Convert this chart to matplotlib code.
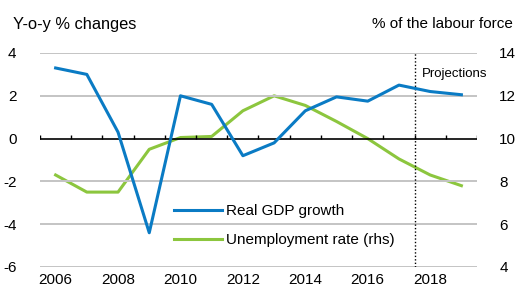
import matplotlib
matplotlib.use("Agg")
import matplotlib.pyplot as plt
import numpy as np

plt.rcParams['font.family'] = ['Liberation Sans', 'DejaVu Sans']

years = [2006, 2007, 2008, 2009, 2010, 2011, 2012, 2013, 2014, 2015, 2016, 2017, 2018, 2019]
gdp_growth = [3.3, 3.0, 0.3, -4.4, 2.0, 1.6, -0.8, -0.2, 1.3, 1.95, 1.75, 2.5, 2.2, 2.05]
unemployment = [8.3, 7.5, 7.5, 9.5, 10.05, 10.1, 11.3, 12.0, 11.55, 10.8, 10.0, 9.05, 8.3, 7.8]
year_labels = [2006, 2008, 2010, 2012, 2014, 2016, 2018]
projection_start = 2017.5

blue = '#0A7BC4'
green = '#8CC63E'
grid_c = '#C4C4C4'

fig = plt.figure(figsize=(5.15, 2.89), dpi=100)
ax = fig.add_axes([40/515, 1-267/289, (477-40)/515, (267-53)/289])
ax2 = ax.twinx()

x = np.array(years, dtype=float)
ax.set_xlim(x[0]-0.5, x[-1]+0.5)
ax.set_ylim(-6, 4)
ax2.set_ylim(4, 14)

for v in [4, 2, -2, -4, -6]:
    ax.axhline(v, color=grid_c, lw=1.4, zorder=1)

l1, = ax.plot(x, gdp_growth, color=blue, lw=2.2, zorder=3, label='Real GDP growth')
l2, = ax2.plot(x, unemployment, color=green, lw=2.2, zorder=3, label='Unemployment rate (rhs)')
ax.set_zorder(ax2.get_zorder()+1)
ax.patch.set_visible(False)

# zero axis line with category boundary ticks
ax.axhline(0, color='black', lw=1.2, zorder=2)
boundaries = np.append(x - 0.5, x[-1] + 0.5)
tick_h = 4 / 214 * 10  # ~4 px in data units
ax.vlines(boundaries, 0, tick_h, color='black', lw=1.0, zorder=2)

ax.axvline(projection_start, color='black', lw=1.0, ls=(0, (1, 1.5)), zorder=2)
ax.text(projection_start+0.25, 3.0, 'Projections', fontsize=9.5, va='center', ha='left')

for a in (ax, ax2):
    for s in a.spines.values():
        s.set_visible(False)

ax.set_xticks(year_labels)
ax.set_xticklabels([str(y) for y in year_labels], fontsize=11)
ax.tick_params(axis='x', length=0, pad=4)
ax.set_yticks([4, 2, 0, -2, -4, -6])
ax.set_yticklabels(['4', '2', '0', '-2', '-4', '-6'], fontsize=11)
ax.tick_params(axis='y', length=0, pad=17)
ax2.set_yticks([14, 12, 10, 8, 6, 4])
ax2.set_yticklabels(['14', '12', '10', '8', '6', '4'], fontsize=11)
ax2.tick_params(axis='y', length=0, pad=16)

fig.text(13/515, 1-24/289, 'Y-o-y % changes', fontsize=11.8, ha='left', va='center')
fig.text(513/515, 1-24/289, '% of the labour force', fontsize=11, ha='right', va='center')

leg = ax.legend(handles=[l1, l2], loc='upper left', bbox_to_anchor=(0.307, 0.294),
                frameon=False, fontsize=11, handlelength=3.1, handletextpad=0.3,
                labelspacing=1.0, borderaxespad=0, borderpad=0)

fig.savefig('out.png', dpi=100)
